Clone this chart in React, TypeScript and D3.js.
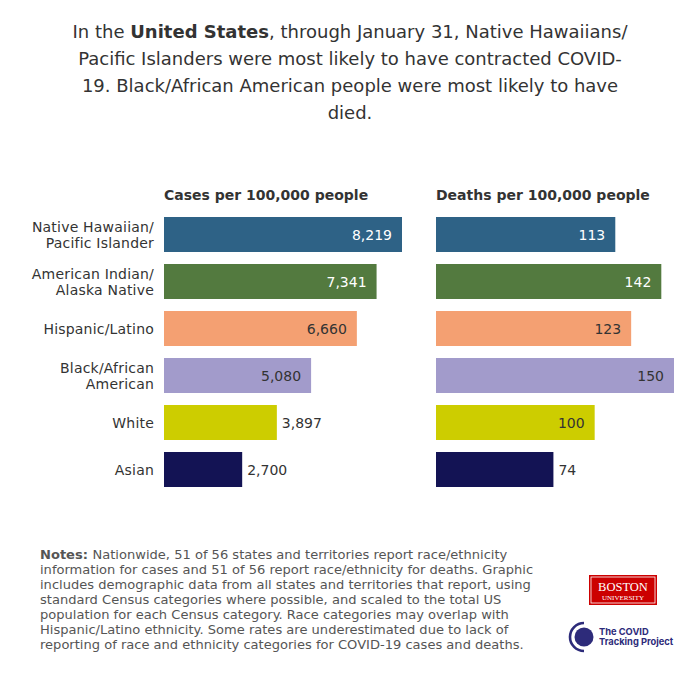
import { scaleLinear, format } from "d3";

const categories = [
  ["Native Hawaiian/", "Pacific Islander"],
  ["American Indian/", "Alaska Native"],
  ["Hispanic/Latino"],
  ["Black/African", "American"],
  ["White"],
  ["Asian"],
];
const cases = [8219, 7341, 6660, 5080, 3897, 2700];
const deaths = [113, 142, 123, 150, 100, 74];
const colors = ["#2e6286", "#537a3f", "#f4a072", "#a29bcb", "#cdcd00", "#131354"];
const lightText = [true, true, false, false, false, true];

const titleLines = [
  [["In the ", false], ["United States", true], [", through January 31, Native Hawaiians/", false]],
  [["Pacific Islanders were most likely to have contracted COVID-", false]],
  [["19. Black/African American people were most likely to have", false]],
  [["died.", false]],
] as [string, boolean][][];

const noteLines = [
  "Nationwide, 51 of 56 states and territories report race/ethnicity",
  "information for cases and 51 of 56 report race/ethnicity for deaths. Graphic",
  "includes demographic data from all states and territories that report, using",
  "standard Census categories where possible, and scaled to the total US",
  "population for each Census category. Race categories may overlap with",
  "Hispanic/Latino ethnicity. Some rates are underestimated due to lack of",
  "reporting of race and ethnicity categories for COVID-19 cases and deaths.",
];

const FONT = "DejaVu Sans, sans-serif";
const TEXT = "#333333";
const fmt = format(",");

// row positions: bar top and height
const ROW_TOP = 217;
const ROW_STEP = 47;
const BAR_H = 35;
const rowY = (i: number) => ROW_TOP + i * ROW_STEP;

function BarColumn({ values, x0, x1, title }: { values: number[]; x0: number; x1: number; title: string }) {
  const max = Math.max(...values);
  const x = scaleLinear().domain([0, max]).range([x0, x1]);
  return (
    <g>
      <text x={x0} y={200} fontSize={14} fontWeight="bold" fill={TEXT}>
        {title}
      </text>
      {values.map((v, i) => {
        const w = x(v) - x0;
        const inside = w > 130;
        const cy = rowY(i) + BAR_H / 2;
        return (
          <g key={i}>
            <rect x={x0} y={rowY(i)} width={w} height={BAR_H} fill={colors[i]} />
            <text
              x={inside ? x(v) - 10 : x(v) + 5}
              y={cy + 5}
              textAnchor={inside ? "end" : "start"}
              fontSize={14}
              fill={inside ? (lightText[i] ? "#ffffff" : TEXT) : TEXT}
            >
              {fmt(v)}
            </text>
          </g>
        );
      })}
    </g>
  );
}

export default function App() {
  return (
    <div style={{ position: "fixed", left: 0, top: 0, width: 700, height: 700, background: "#fff" }}>
      <svg width={700} height={700} style={{ fontFamily: FONT }}>
        <rect width={700} height={700} fill="#fff" />
        {titleLines.map((line, i) => (
          <text key={i} x={350} y={38 + i * 27} textAnchor="middle" fontSize={18} fill={TEXT}>
            {line.map(([s, b], j) => (
              <tspan key={j} fontWeight={b ? "bold" : "normal"}>
                {s}
              </tspan>
            ))}
          </text>
        ))}

        {categories.map((lines, i) => {
          const cy = rowY(i) + BAR_H / 2;
          return (
            <text key={i} x={154} textAnchor="end" fontSize={14} letterSpacing={0.2} fill={TEXT}>
              {lines.map((l, j) => (
                <tspan key={j} x={154} y={cy + 5 + (lines.length === 2 ? (j === 0 ? -7.5 : 8.5) : 0)}>
                  {l}
                </tspan>
              ))}
            </text>
          );
        })}

        <BarColumn values={cases} x0={164} x1={402} title="Cases per 100,000 people" />
        <BarColumn values={deaths} x0={436} x1={674} title="Deaths per 100,000 people" />

        <g fontSize={13.05} fill="#555555">
          {noteLines.map((l, i) => (
            <text key={i} x={40} y={559 + i * 15}>
              {i === 0 && <tspan fontWeight="bold">Notes: </tspan>}
              {l}
            </text>
          ))}
        </g>

        {/* Boston University logo */}
        <g>
          <rect x={589} y={575} width={68} height={30} fill="#cc0000" />
          <rect x={591} y={577} width={64} height={26} fill="none" stroke="#ffffff" strokeWidth={0.8} />
          <text x={623} y={591} textAnchor="middle" fontSize={12.5} fontFamily="Liberation Serif, serif" fill="#fff">
            BOSTON
          </text>
          <text x={623} y={600} textAnchor="middle" fontSize={7} fontFamily="Liberation Serif, serif" fill="#fff">
            UNIVERSITY
          </text>
        </g>

        {/* COVID Tracking Project logo */}
        <g>
          <path d="M 584 623 A 14 14 0 1 0 584 651" fill="none" stroke="#2d2b7a" strokeWidth={2.6} />
          <circle cx={584} cy={637} r={9.5} fill="#2d2b7a" />
          <text x={599} y={635} fontSize={9.3} fontWeight="bold" fill="#2d2b7a" fontFamily="Inter, sans-serif">
            The COVID
          </text>
          <text x={599} y={645} fontSize={9.3} fontWeight="bold" fill="#2d2b7a" fontFamily="Inter, sans-serif">
            Tracking Project
          </text>
        </g>
      </svg>
    </div>
  );
}
